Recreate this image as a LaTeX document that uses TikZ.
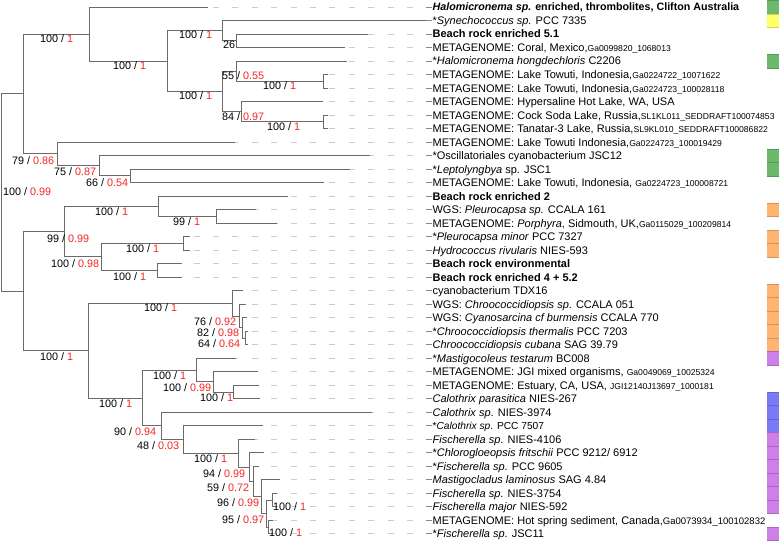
\documentclass[tikz,border=0pt]{standalone}
\usepackage{fontspec}
\setmainfont{Liberation Sans}
\usetikzlibrary{calc}
\definecolor{br}{HTML}{6A6A6A}
\definecolor{dsh}{HTML}{CCCCCC}
\definecolor{supred}{HTML}{F52525}
\definecolor{cgreen}{RGB}{108,185,108}
\definecolor{cyellow}{RGB}{255,255,105}
\definecolor{corange}{RGB}{255,180,112}
\definecolor{cpurple}{RGB}{204,128,232}
\definecolor{cblue}{RGB}{122,122,246}
\newcommand{\acc}[1]{{\fontsize{8.6}{9}\selectfont #1}}
\newcommand{\accb}[1]{{\fontsize{9.5}{10}\selectfont #1}}
\newcommand{\sv}[2]{#1 / \textcolor{supred}{#2}}
\newcommand{\leafrow}[4]{%
  \coordinate (t#1) at (#2,{7+13.51*(#1-1)});
  \draw[branch] (#3) |- (t#1);
  \node[leaflbl] (n#1) at (432.4,{7+13.51*(#1-1)}) {#4};
  \draw[dashln] (n#1.west) -- (t#1);
  \draw[lastdash] (n#1.west) -- ++(-6,0);
}
\newcommand{\barcell}[2]{%
  \fill[#2] (767,{7+13.51*(#1-1)-6.755}) rectangle (779,{7+13.51*(#1-1)+6.755});
  \draw[#2!82!black, line width=0.4pt] (767,{7+13.51*(#1-1)-6.755}) -- (779,{7+13.51*(#1-1)-6.755});
  \draw[#2!82!black, line width=0.4pt] (767,{7+13.51*(#1-1)+6.755}) -- (779,{7+13.51*(#1-1)+6.755});
}
\begin{document}
\begin{tikzpicture}[x=1pt,y=-1pt,
  branch/.style={draw=br, line width=1pt},
  lastdash/.style={draw=br!80, line width=1pt},
  dashln/.style={draw=dsh, line width=1pt, dash pattern=on 6pt off 13.4pt},
  leaflbl/.style={anchor=west, inner sep=0pt, text height=7.9pt, text depth=0pt, font=\fontsize{11}{12}\selectfont},
  suplbl/.style={anchor=west, inner sep=0pt, text height=7.7pt, text depth=0pt, font=\fontsize{10.8}{12}\selectfont},
]
\fill[white] (0,0) rectangle (779,544);
\useasboundingbox (0,0) rectangle (779,544);

% internal nodes
\coordinate (root) at (1,192.55);
\coordinate (A) at (23,93.95);
\coordinate (B) at (89,34.0);
\coordinate (D) at (167,61.0);
\coordinate (E) at (222,30.6);
\coordinate (G) at (236,40.75);
\coordinate (F) at (222,91.45);
\coordinate (H) at (236,71.2);
\coordinate (J) at (323,81.35);
\coordinate (I) at (241,111.7);
\coordinate (K) at (323,121.85);
\coordinate (C) at (57,153.9);
\coordinate (L) at (99,165.7);
\coordinate (M) at (130,175.85);
\coordinate (N) at (23,291.15);
\coordinate (O) at (64,231.6);
\coordinate (P) at (158,206.3);
\coordinate (Q) at (216,216.45);
\coordinate (R) at (101,256.95);
\coordinate (S) at (183,243.45);
\coordinate (T) at (157,270.45);
\coordinate (U) at (88,350.7);
\coordinate (V) at (232,303.35);
\coordinate (W) at (239,316.0);
\coordinate (X) at (242,327.85);
\coordinate (Y) at (245,338.0);
\coordinate (Z) at (142,398.0);
\coordinate (AA) at (196,370.1);
\coordinate (AB) at (213,381.9);
\coordinate (AC) at (233,392.05);
\coordinate (AD) at (161,425.9);
\coordinate (AE) at (183,439.5);
\coordinate (AF) at (238,453.25);
\coordinate (AG) at (249,467.2);
\coordinate (AH) at (253,481.55);
\coordinate (AI) at (261,496.8);
\coordinate (AJ) at (266,513.65);
\coordinate (AK) at (272,500.15);
\coordinate (AL) at (268,527.15);

% internal edges
\foreach \p/\c in {root/A,root/N,A/B,A/C,B/D,D/E,D/F,E/G,F/H,F/I,H/J,I/K,C/L,L/M,
  N/O,N/U,O/P,O/R,P/Q,R/S,R/T,U/V,U/Z,V/W,W/X,X/Y,Z/AA,Z/AD,AA/AB,AB/AC,
  AD/AE,AE/AF,AF/AG,AG/AH,AH/AI,AI/AJ,AJ/AK,AJ/AL}
  \draw[branch] (\p) |- (\c);

% leaves
\leafrow{1}{208}{B}{{\fontsize{10.7}{12}\selectfont\textbf{\textit{Halomicronema sp.} enriched, thrombolites, Clifton Australia}}}
\leafrow{2}{432.4}{E}{*\textit{Synechococcus sp.} PCC 7335}
\leafrow{3}{368}{G}{\textbf{Beach rock enriched 5.1}}
\leafrow{4}{345}{G}{METAGENOME: Coral, Mexico,\acc{Ga0099820\_1068013}}
\leafrow{5}{347}{H}{*\textit{Halomicronema hongdechloris} C2206}
\leafrow{6}{328}{J}{METAGENOME: Lake Towuti, Indonesia,\acc{Ga0224722\_10071622}}
\leafrow{7}{328}{J}{METAGENOME: Lake Towuti, Indonesia,\acc{Ga0224723\_100028118}}
\leafrow{8}{323}{I}{METAGENOME: Hypersaline Hot Lake, WA, USA}
\leafrow{9}{328}{K}{METAGENOME: Cock Soda Lake, Russia,\acc{SL1KL011\_SEDDRAFT100074853}}
\leafrow{10}{328}{K}{METAGENOME: Tanatar-3 Lake, Russia,\acc{SL9KL010\_SEDDRAFT100086822}}
\leafrow{11}{235}{C}{METAGENOME: Lake Towuti Indonesia,\acc{Ga0224723\_100019429}}
\leafrow{12}{370}{L}{*Oscillatoriales cyanobacterium JSC12}
\leafrow{13}{350}{M}{*\textit{Leptolyngbya} sp. JSC1}
\leafrow{14}{324}{M}{METAGENOME: Lake Towuti, Indonesia, \acc{Ga0224723\_100008721}}
\leafrow{15}{288}{P}{\textbf{Beach rock enriched 2}}
\leafrow{16}{256}{Q}{WGS: \textit{Pleurocapsa sp.} CCALA 161}
\leafrow{17}{277}{Q}{METAGENOME: \textit{Porphyra}, Sidmouth, UK,\acc{Ga0115029\_100209814}}
\leafrow{18}{190}{S}{*\textit{Pleurocapsa minor} PCC 7327}
\leafrow{19}{190}{S}{\textit{Hydrococcus rivularis} NIES-593}
\leafrow{20}{182}{T}{\textbf{Beach rock environmental}}
\leafrow{21}{182}{T}{\textbf{Beach rock enriched 4 + 5.2}}
\leafrow{22}{243}{V}{cyanobacterium TDX16}
\leafrow{23}{246}{W}{WGS: \textit{Chroococcidiopsis sp}. CCALA 051}
\leafrow{24}{247}{X}{WGS: \textit{Cyanosarcina cf burmensis} CCALA 770}
\leafrow{25}{248}{Y}{*\textit{Chroococcidiopsis thermalis} PCC 7203}
\leafrow{26}{248}{Y}{\textit{Chroococcidiopsis cubana} SAG 39.79}
\leafrow{27}{236}{AA}{*\textit{Mastigocoleus testarum} BC008}
\leafrow{28}{258}{AB}{METAGENOME: JGI mixed organisms, \acc{Ga0049069\_10025324}}
\leafrow{29}{259}{AC}{METAGENOME: Estuary, CA, USA, \acc{JGI12140J13697\_1000181}}
\leafrow{30}{260}{AC}{\textit{Calothrix parasitica} NIES-267}
\leafrow{31}{372}{AD}{\textit{Calothrix sp}. NIES-3974}
\leafrow{32}{263}{AE}{{\fontsize{10.2}{12}\selectfont *\textit{Calothrix sp}. PCC 7507}}
\leafrow{33}{255}{AF}{\textit{Fischerella sp}. NIES-4106}
\leafrow{34}{264}{AG}{*\textit{Chlorogloeopsis fritschii} PCC 9212/ 6912}
\leafrow{35}{259}{AH}{*\textit{Fischerella sp}. PCC 9605}
\leafrow{36}{280}{AI}{\textit{Mastigocladus laminosus} SAG 4.84}
\leafrow{37}{277}{AK}{\textit{Fischerella sp}. NIES-3754}
\leafrow{38}{277}{AK}{\textit{Fischerella major} NIES-592}
\leafrow{39}{273}{AL}{METAGENOME: Hot spring sediment, Canada,\accb{Ga0073934\_100102832}}
\leafrow{40}{273}{AL}{*\textit{Fischerella sp}. JSC11}

% support values
\node[suplbl] (sB) at (40,39) {\sv{100}{1}};
\node[suplbl] (sD) at (113,66) {\sv{100}{1}};
\node[suplbl] (sE) at (179,35) {\sv{100}{1}};
\node[suplbl] (sF) at (179,96) {\sv{100}{1}};
\node[suplbl] (sG) at (223,45) {26};
\node[suplbl] (sH) at (222,76) {\sv{55}{0.55}};
\node[suplbl] (sJ) at (263,86) {\sv{100}{1}};
\node[suplbl] (sI) at (222,117) {\sv{84}{0.97}};
\node[suplbl] (sK) at (267,127) {\sv{100}{1}};
\node[suplbl] (sC) at (12,161) {\sv{79}{0.86}};
\node[suplbl] (sL) at (54,172) {\sv{75}{0.87}};
\node[suplbl] (sM) at (86,183) {\sv{66}{0.54}};
\node[suplbl] (sN) at (3,192) {\sv{100}{0.99}};
\node[suplbl] (sP) at (95,212) {\sv{100}{1}};
\node[suplbl] (sQ) at (173,222) {\sv{99}{1}};
\node[suplbl] (sO) at (47,239) {\sv{99}{0.99}};
\node[suplbl] (sS) at (126,249) {\sv{100}{1}};
\node[suplbl] (sR) at (51,264) {\sv{100}{0.98}};
\node[suplbl] (sT) at (113,277) {\sv{100}{1}};
\node[suplbl] (sV) at (144,308) {\sv{100}{1}};
\node[suplbl] (sW) at (194,322) {\sv{76}{0.92}};
\node[suplbl] (sX) at (197,333) {\sv{82}{0.98}};
\node[suplbl] (sY) at (198,344) {\sv{64}{0.64}};
\node[suplbl] (sU) at (40,357) {\sv{100}{1}};
\node[suplbl] (sAA) at (153,376) {\sv{100}{1}};
\node[suplbl] (sAB) at (163,388) {\sv{100}{0.99}};
\node[suplbl] (sAC) at (200,398) {\sv{100}{1}};
\node[suplbl] (sZ) at (99,404) {\sv{100}{1}};
\node[suplbl] (sAD) at (114,432) {\sv{90}{0.94}};
\node[suplbl] (sAE) at (137,446) {\sv{48}{0.03}};
\node[suplbl] (sAF) at (194,459) {\sv{100}{1}};
\node[suplbl] (sAG) at (203,474) {\sv{94}{0.99}};
\node[suplbl] (sAH) at (207,488) {\sv{59}{0.72}};
\node[suplbl] (sAI) at (217,503) {\sv{96}{0.99}};
\node[suplbl] (sAK) at (273,507) {\sv{100}{1}};
\node[suplbl] (sAJ) at (222,520) {\sv{95}{0.97}};
\node[suplbl] (sAL) at (269,533) {\sv{100}{1}};

% colour strip
\barcell{1}{cgreen}
\barcell{2}{cyellow}
\barcell{5}{cgreen}
\barcell{12}{cgreen}
\barcell{13}{cgreen}
\barcell{16}{corange}
\barcell{18}{corange}
\barcell{19}{corange}
\foreach \r in {22,...,26} {\barcell{\r}{corange}}
\barcell{27}{cpurple}
\foreach \r in {30,31,32} {\barcell{\r}{cblue}}
\foreach \r in {33,...,38} {\barcell{\r}{cpurple}}
\barcell{40}{cpurple}
\end{tikzpicture}
\end{document}
